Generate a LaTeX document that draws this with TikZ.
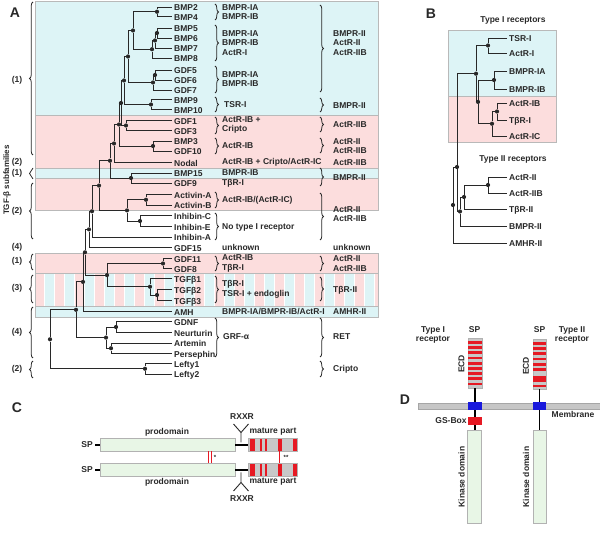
\documentclass[tikz,border=0pt]{standalone}
\usepackage{fontspec}
\setmainfont{Liberation Sans}
\usetikzlibrary{decorations.pathreplacing}
\definecolor{ink}{RGB}{40,40,40}
\definecolor{bandcyan}{RGB}{221,244,246}
\definecolor{bandpink}{RGB}{252,221,221}
\definecolor{domgreen}{RGB}{232,246,230}
\definecolor{cysred}{RGB}{230,25,35}
\definecolor{tmblue}{RGB}{25,25,220}
\definecolor{ecdgray}{RGB}{200,200,200}
\begin{document}
\begin{tikzpicture}[x=1pt, y=-1pt, font=\fontsize{8.5}{9.5}\selectfont\bfseries,
  every node/.style={text=ink},
  dot_node/.style={circle, fill=ink, minimum size=4.2pt, inner sep=0pt},
  leaf_node/.style={anchor=west, inner sep=2pt, text height=1.6ex, text depth=0.2ex},
  rec_node/.style={anchor=west, align=left, inner sep=0pt},
  panel_node/.style={font=\fontsize{14}{16}\selectfont\bfseries},
  tree_edge/.style={draw=ink, line width=0.95pt},
  brace_l/.style={decorate, decoration={brace, amplitude=3.5pt}, draw=ink, line width=0.8pt},
  band/.style={draw=gray!55, line width=0.4pt},
  domain_box/.style={draw=gray!60, fill=domgreen, line width=0.5pt},
  linker/.style={draw=black, line width=1.6pt}]
\useasboundingbox (0,0) rectangle (600,534);

% A: subfamily bands
\path[band, fill=bandcyan] (35,1) rectangle (378,115);
\path[band, fill=bandpink] (35,115) rectangle (378,168);
\path[band, fill=bandcyan] (35,168) rectangle (378,178);
\path[band, fill=bandpink] (35,178) rectangle (378,210);
\path[band, fill=bandpink] (35,253) rectangle (378,273.5);
\begin{scope}
  \clip (35,273.5) rectangle (378,306);
  \foreach \sx in {35,55,...,375} {
    \fill[bandpink] (\sx,273.5) rectangle ++(9,32.5);
    \fill[bandcyan] (\sx+10,273.5) rectangle ++(9,32.5);
  }
\end{scope}
\path[band] (35,273.5) rectangle (378,306);
\path[band, fill=bandcyan] (35,306) rectangle (378,317);

\node[panel_node] (lblA) at (15,13) {A};

% A: ligands
\node[leaf_node] (bmp2) at (172,7) {BMP2};
\node[leaf_node] (bmp4) at (172,16.5) {BMP4};
\node[leaf_node] (bmp5) at (172,28) {BMP5};
\node[leaf_node] (bmp6) at (172,38) {BMP6};
\node[leaf_node] (bmp7) at (172,48) {BMP7};
\node[leaf_node] (bmp8) at (172,58) {BMP8};
\node[leaf_node] (gdf5) at (172,70) {GDF5};
\node[leaf_node] (gdf6) at (172,80) {GDF6};
\node[leaf_node] (gdf7) at (172,90) {GDF7};
\node[leaf_node] (bmp9) at (172,99.5) {BMP9};
\node[leaf_node] (bmp10) at (172,109.5) {BMP10};
\node[leaf_node] (gdf1) at (172,120.5) {GDF1};
\node[leaf_node] (gdf3) at (172,130.5) {GDF3};
\node[leaf_node] (bmp3) at (172,141) {BMP3};
\node[leaf_node] (gdf10) at (172,151) {GDF10};
\node[leaf_node] (nodal) at (172,162.5) {Nodal};
\node[leaf_node] (bmp15) at (172,173) {BMP15};
\node[leaf_node] (gdf9) at (172,183) {GDF9};
\node[leaf_node] (actA) at (172,194.5) {Activin-A};
\node[leaf_node] (actB) at (172,205) {Activin-B};
\node[leaf_node] (inhC) at (172,215.5) {Inhibin-C};
\node[leaf_node] (inhE) at (172,226.5) {Inhibin-E};
\node[leaf_node] (inhA) at (172,237) {Inhibin-A};
\node[leaf_node] (gdf15) at (172,247.5) {GDF15};
\node[leaf_node] (gdf11) at (172,258.5) {GDF11};
\node[leaf_node] (gdf8) at (172,268.5) {GDF8};
\node[leaf_node] (tgfb1) at (172,278.5) {TGFβ1};
\node[leaf_node] (tgfb2) at (172,289.5) {TGFβ2};
\node[leaf_node] (tgfb3) at (172,300.5) {TGFβ3};
\node[leaf_node] (amh) at (172,311.5) {AMH};
\node[leaf_node] (gdnf) at (172,321.5) {GDNF};
\node[leaf_node] (nrtn) at (172,332.5) {Neurturin};
\node[leaf_node] (artn) at (172,343) {Artemin};
\node[leaf_node] (pspn) at (172,353.5) {Persephin};
\node[leaf_node] (lefty1) at (172,363.5) {Lefty1};
\node[leaf_node] (lefty2) at (172,374) {Lefty2};

% A: branch points
\node[dot_node] (j24) at (157,11.75) {};
\node[dot_node] (j56) at (157,33) {};
\node[dot_node] (j567) at (155,40.5) {};
\node[dot_node] (j5678) at (152,49.25) {};
\node[dot_node] (jN) at (133,30.5) {};
\node[dot_node] (j_gdf56) at (155,75) {};
\node[dot_node] (j_gdf567) at (153,82.5) {};
\node[dot_node] (jM) at (128,56.5) {};
\node[dot_node] (j_bmp910) at (151,104.5) {};
\node[dot_node] (jL) at (124,80.5) {};
\node[dot_node] (j_gdf13) at (126,125.5) {};
\node[dot_node] (jK) at (121,103) {};
\node[dot_node] (j_bmp3) at (153,146) {};
\node[dot_node] (jJ) at (119,124.5) {};
\node[dot_node] (jI) at (114,143.5) {};
\node[dot_node] (j_bmp15) at (131,178) {};
\node[dot_node] (jH) at (110,160.75) {};
\node[dot_node] (j_act) at (146,199.75) {};
\node[dot_node] (j_inh) at (140,221) {};
\node[dot_node] (j_actinh) at (127,210.4) {};
\node[dot_node] (jG) at (99,185.6) {};
\node[dot_node] (jF) at (92,211.3) {};
\node[dot_node] (jD) at (89,229.4) {};
\node[dot_node] (j_gdf8) at (163,263.5) {};
\node[dot_node] (j_tgfb23) at (157,295) {};
\node[dot_node] (j_tgfb) at (150,286.75) {};
\node[dot_node] (jE) at (107,275.1) {};
\node[dot_node] (jC) at (85,252.3) {};
\node[dot_node] (jB) at (83,281.9) {};
\node[dot_node] (j_gdnf) at (116,327) {};
\node[dot_node] (j_artn) at (111,348.25) {};
\node[dot_node] (j_grf) at (106,337.6) {};
\node[dot_node] (jA) at (76,309.8) {};
\node[dot_node] (j_lefty) at (145,368.75) {};
\node[dot_node] (jroot) at (50,339.3) {};

\draw[tree_edge] (bmp2) -| (j24) |- (bmp4);
\draw[tree_edge] (bmp5) -| (j56) |- (bmp6);
\draw[tree_edge] (j56) -| (j567) |- (bmp7);
\draw[tree_edge] (j567) -| (j5678) |- (bmp8);
\draw[tree_edge] (j24) -| (jN) |- (j5678);
\draw[tree_edge] (gdf5) -| (j_gdf56) |- (gdf6);
\draw[tree_edge] (j_gdf56) -| (j_gdf567) |- (gdf7);
\draw[tree_edge] (jN) -| (jM) |- (j_gdf567);
\draw[tree_edge] (bmp9) -| (j_bmp910) |- (bmp10);
\draw[tree_edge] (jM) -| (jL) |- (j_bmp910);
\draw[tree_edge] (gdf1) -| (j_gdf13) |- (gdf3);
\draw[tree_edge] (jL) -| (jK) |- (j_gdf13);
\draw[tree_edge] (bmp3) -| (j_bmp3) |- (gdf10);
\draw[tree_edge] (jK) -| (jJ) |- (j_bmp3);
\draw[tree_edge] (jJ) -| (jI) |- (nodal);
\draw[tree_edge] (bmp15) -| (j_bmp15) |- (gdf9);
\draw[tree_edge] (jI) -| (jH) |- (j_bmp15);
\draw[tree_edge] (actA) -| (j_act) |- (actB);
\draw[tree_edge] (inhC) -| (j_inh) |- (inhE);
\draw[tree_edge] (j_act) -| (j_actinh) |- (j_inh);
\draw[tree_edge] (jH) -| (jG) |- (j_actinh);
\draw[tree_edge] (jG) -| (jF) |- (inhA);
\draw[tree_edge] (jF) -| (jD) |- (gdf15);
\draw[tree_edge] (gdf11) -| (j_gdf8) |- (gdf8);
\draw[tree_edge] (tgfb2) -| (j_tgfb23) |- (tgfb3);
\draw[tree_edge] (tgfb1) -| (j_tgfb) |- (j_tgfb23);
\draw[tree_edge] (j_gdf8) -| (jE) |- (j_tgfb);
\draw[tree_edge] (jD) -| (jC) |- (jE);
\draw[tree_edge] (jC) -| (jB) |- (amh);
\draw[tree_edge] (gdnf) -| (j_gdnf) |- (nrtn);
\draw[tree_edge] (artn) -| (j_artn) |- (pspn);
\draw[tree_edge] (j_gdnf) -| (j_grf) |- (j_artn);
\draw[tree_edge] (jB) -| (jA) |- (j_grf);
\draw[tree_edge] (lefty1) -| (j_lefty) |- (lefty2);
\draw[tree_edge] (jA) -| (jroot) |- (j_lefty);

% A: subfamilies
\node[rotate=90, font=\fontsize{8}{9}\selectfont\bfseries] (famtitle) at (7,180) {TGF-β subfamilies};
\draw[brace_l] (33,155) -- (33,2);   \node (fam1a) at (17,80) {(1)};
\node (fam2a) at (17,162.5) {(2)};
\draw[brace_l] (33,179) -- (33,168); \node (fam1b) at (17,173.5) {(1)};
\draw[brace_l] (33,239) -- (33,183); \node (fam2b) at (17,211) {(2)};
\node (fam4a) at (17,247.5) {(4)};
\draw[brace_l] (33,270) -- (33,254); \node (fam1c) at (17,261) {(1)};
\draw[brace_l] (33,303) -- (33,275); \node (fam3) at (17,288) {(3)};
\draw[brace_l] (33,358) -- (33,307); \node (fam4b) at (17,332) {(4)};
\draw[brace_l] (33,378) -- (33,361); \node (fam2c) at (17,369) {(2)};

% A: type I receptors
\draw[brace_l] (215,4) -- (215,20);    \node[rec_node] (r1a) at (222,12) {BMPR-IA\\BMPR-IB};
\draw[brace_l] (215,25) -- (215,61);   \node[rec_node] (r1b) at (222,43) {BMPR-IA\\BMPR-IB\\ActR-I};
\draw[brace_l] (215,66) -- (215,93);   \node[rec_node] (r1c) at (222,79) {BMPR-IA\\BMPR-IB};
\draw[brace_l] (215,97) -- (215,112);  \node[rec_node] (r1d) at (224,104.5) {TSR-I};
\draw[brace_l] (215,117) -- (215,134); \node[rec_node] (r1e) at (222,125) {ActR-IB +\\Cripto};
\draw[brace_l] (215,138) -- (215,154); \node[rec_node] (r1f) at (222,146) {ActR-IB};
\node[rec_node] (r1g) at (222,162.5) {ActR-IB + Cripto/ActR-IC};
\node[rec_node] (r1h) at (222,173) {BMPR-IB};
\node[rec_node] (r1i) at (222,183) {TβR-I};
\draw[brace_l] (215,192) -- (215,208); \node[rec_node] (r1j) at (222,200) {ActR-IB/(ActR-IC)};
\draw[brace_l] (215,213) -- (215,240); \node[rec_node] (r1k) at (222,227) {No type I receptor};
\node[rec_node] (r1l) at (222,247.5) {unknown};
\draw[brace_l] (215,256) -- (215,271); \node[rec_node] (r1m) at (222,263.5) {ActR-IB\\TβR-I};
\draw[brace_l] (215,276) -- (215,303); \node[rec_node] (r1n) at (222,289.5) {TβR-I\\TSR-I + endoglin};
\node[rec_node] (r1o) at (222,311.5) {BMPR-IA/BMPR-IB/ActR-I};
\draw[brace_l] (215,318) -- (215,357); \node[rec_node] (r1p) at (223,337) {GRF-α};

% A: type II receptors
\draw[brace_l] (320,5) -- (320,92);    \node[rec_node] (r2a) at (333,43) {BMPR-II\\ActR-II\\ActR-IIB};
\draw[brace_l] (320,98) -- (320,112);  \node[rec_node] (r2b) at (333,106) {BMPR-II};
\draw[brace_l] (320,117) -- (320,132); \node[rec_node] (r2c) at (333,125) {ActR-IIB};
\draw[brace_l] (320,138) -- (320,153); \node[rec_node] (r2d) at (333,146) {ActR-II\\ActR-IIB};
\node[rec_node] (r2e) at (333,162.5) {ActR-IIB};
\draw[brace_l] (320,168) -- (320,186); \node[rec_node] (r2f) at (333,178) {BMPR-II};
\draw[brace_l] (320,193) -- (320,240); \node[rec_node] (r2g) at (333,214) {ActR-II\\ActR-IIB};
\node[rec_node] (r2h) at (333,247.5) {unknown};
\draw[brace_l] (320,256) -- (320,271); \node[rec_node] (r2i) at (333,263.5) {ActR-II\\ActR-IIB};
\draw[brace_l] (320,277) -- (320,301); \node[rec_node] (r2j) at (333,290) {TβR-II};
\node[rec_node] (r2k) at (333,311.5) {AMHR-II};
\draw[brace_l] (320,318) -- (320,357); \node[rec_node] (r2l) at (333,337) {RET};
\draw[brace_l] (320,361) -- (320,377); \node[rec_node] (r2m) at (333,369) {Cripto};

% B: receptor tree
\node[panel_node] (lblB) at (431,14) {B};
\node (ttl1) at (513,20) {Type I receptors};
\path[band, fill=bandcyan] (448,30) rectangle (556,96);
\path[band, fill=bandpink] (448,96) rectangle (556,142);
\node (ttl2) at (513,159) {Type II receptors};

\node[leaf_node] (tsr1) at (507,38) {TSR-I};
\node[leaf_node] (actr1) at (507,53) {ActR-I};
\node[leaf_node] (bmpr1a) at (507,71) {BMPR-IA};
\node[leaf_node] (bmpr1b) at (507,89) {BMPR-IB};
\node[leaf_node] (actr1b) at (507,103) {ActR-IB};
\node[leaf_node] (tbr1) at (507,120) {TβR-I};
\node[leaf_node] (actr1c) at (507,136) {ActR-IC};
\node[leaf_node] (actr2) at (507,177) {ActR-II};
\node[leaf_node] (actr2b) at (507,193) {ActR-IIB};
\node[leaf_node] (tbr2) at (507,209) {TβR-II};
\node[leaf_node] (bmpr2) at (507,226) {BMPR-II};
\node[leaf_node] (amhr2) at (507,243) {AMHR-II};

\node[dot_node] (b_tsr) at (488,45.5) {};
\node[dot_node] (b_bmpr) at (494,80) {};
\node[dot_node] (b_tbr) at (497,111.5) {};
\node[dot_node] (b_act1c) at (492,123.75) {};
\node[dot_node] (b_x) at (478,101.9) {};
\node[dot_node] (b_typeI) at (476,73.7) {};
\node[dot_node] (b_act2) at (488,185) {};
\node[dot_node] (b_tbr2) at (464,197) {};
\node[dot_node] (b_bmpr2) at (460,211.5) {};
\node[dot_node] (b_p) at (457,167) {};
\node[dot_node] (b_q) at (453,205) {};

\draw[tree_edge] (tsr1) -| (b_tsr) |- (actr1);
\draw[tree_edge] (bmpr1a) -| (b_bmpr) |- (bmpr1b);
\draw[tree_edge] (actr1b) -| (b_tbr) |- (tbr1);
\draw[tree_edge] (b_tbr) -| (b_act1c) |- (actr1c);
\draw[tree_edge] (b_bmpr) -| (b_x) |- (b_act1c);
\draw[tree_edge] (b_tsr) -| (b_typeI) |- (b_x);
\draw[tree_edge] (actr2) -| (b_act2) |- (actr2b);
\draw[tree_edge] (b_act2) -| (b_tbr2) |- (tbr2);
\draw[tree_edge] (b_tbr2) -| (b_bmpr2) |- (bmpr2);
\draw[tree_edge] (b_typeI) -| (b_p) |- (b_bmpr2);
\draw[tree_edge] (b_p) -| (b_q) |- (amhr2);

% C: precursor dimer
\node[panel_node] (lblC) at (17,408) {C};
\foreach \py/\tag in {445/top, 470/bot} {
  \node (sp_\tag) at (87,\py) {SP};
  \draw[linker] (95,\py) -- (99.5,\py);
  \draw[domain_box] (100,\py-6.5) rectangle (235,\py+6.5);
  \draw[linker] (235,\py) -- (248,\py);
  \fill[ecdgray] (248,\py-6.5) rectangle (297,\py+6.5);
  \foreach \cx/\cw in {250/4.5, 259.5/2.5, 264.5/2.5, 278/3.5, 293/4} {
    \fill[cysred] (\cx,\py-6.5) rectangle ++(\cw,13);
  }
  \draw[draw=gray!60, line width=0.5pt] (248,\py-6.5) rectangle (297,\py+6.5);
}
\node (pro_top) at (167,432) {prodomain};
\node (pro_bot) at (167,482) {prodomain};
\node (mat_top) at (273,432) {mature part};
\node (mat_bot) at (273,482) {mature part};
\draw[line width=0.9pt, draw=ink] (241,442.5) -- (241,432.5) -- (233.5,424);
\draw[line width=0.9pt, draw=ink] (241,432.5) -- (248.5,424);
\node (rx_top) at (242,417) {RXXR};
\draw[line width=0.9pt, draw=ink] (241,472.5) -- (241,482.5) -- (233.5,491);
\draw[line width=0.9pt, draw=ink] (241,482.5) -- (248.5,491);
\node (rx_bot) at (242,498.5) {RXXR};
\draw[draw=cysred, line width=1pt] (208,451.5) -- (208,463.5);
\draw[draw=cysred, line width=1pt] (211,451.5) -- (211,463.5);
\node[font=\fontsize{6}{6}\selectfont\bfseries, inner sep=0pt] (cys1) at (215,457.5) {*};
\draw[draw=cysred, line width=1pt] (279.5,451.5) -- (279.5,463.5);
\node[font=\fontsize{6}{6}\selectfont\bfseries, inner sep=0pt] (cys2) at (286,457.5) {**};

% D: receptors
\node[panel_node] (lblD) at (405,400) {D};
\draw[draw=gray!70, fill=gray!45, line width=0.4pt] (418,403) rectangle (600,409.5);
\node (memb) at (573,414.5) {Membrane};
% type I
\node[align=center] (t1lbl) at (433,335) {Type I\\receptor};
\node (sp1) at (474.5,330) {SP};
\draw[draw=gray!60, fill=ecdgray] (468,338) rectangle (482,388);
\foreach \sy in {341,346.2,...,385} {
  \fill[cysred] (468,\sy) rectangle (482,\sy+2.8);
}
\node[rotate=90] (ecd1) at (461.5,364) {ECD};
\draw[linker] (475,388) -- (475,430);
\fill[tmblue] (468,402) rectangle (482,410.5);
\fill[cysred] (468,417) rectangle (481.5,425.5);
\node (gsbox) at (451,421) {GS-Box};
\draw[domain_box] (467.5,430) rectangle (481.5,523);
\node[rotate=90] (kin1) at (461.5,477) {Kinase domain};
% type II
\node[align=center] (t2lbl) at (572,335) {Type II\\receptor};
\node (sp2) at (539.5,330) {SP};
\draw[draw=gray!60, fill=ecdgray] (533,339) rectangle (546,389);
\foreach \sy in {342,347.2,...,373} {
  \fill[cysred] (533,\sy) rectangle (546,\sy+2.8);
}
\fill[cysred] (533,376.5) rectangle (546,382);
\fill[cysred] (533,385) rectangle (546,387.5);
\node[rotate=90] (ecd2) at (526,366) {ECD};
\draw[linker] (539.5,389) -- (539.5,430);
\fill[tmblue] (533,402.5) rectangle (546,410);
\draw[domain_box] (533,430) rectangle (546,523);
\node[rotate=90] (kin2) at (526,477) {Kinase domain};
\end{tikzpicture}
\end{document}
